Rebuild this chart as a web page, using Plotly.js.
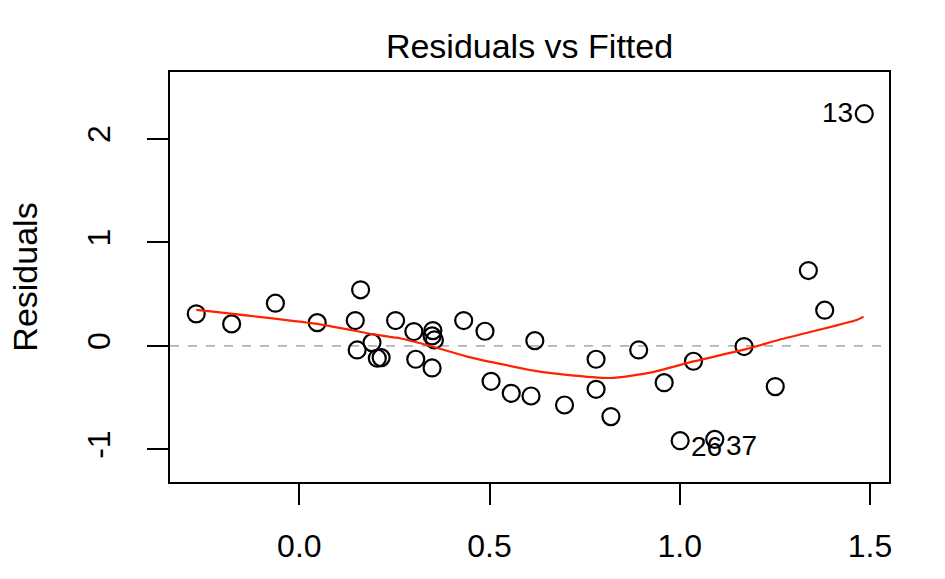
<!DOCTYPE html>
<html>
<head>
<meta charset="utf-8">
<script src="https://cdn.plot.ly/plotly-3.0.1.min.js"></script>
<style>
  html, body { margin: 0; padding: 0; background: #ffffff; }
  #chart { width: 945px; height: 579px; }
</style>
</head>
<body>
<div id="chart"></div>
<script>
// Fitted values and residuals
const fitted = [-0.271, -0.178, -0.063, 0.047, 0.161, 0.147, 0.253, 0.191, 0.152, 0.205, 0.215,
  0.301, 0.306, 0.351, 0.349, 0.355, 0.349, 0.432, 0.488, 0.619, 0.504, 0.557, 0.609, 0.697,
  0.780, 0.780, 0.819, 0.892, 0.959, 1.036, 1.169, 1.251, 1.001, 1.092, 1.338, 1.381, 1.485];
const residuals = [0.310, 0.213, 0.413, 0.225, 0.542, 0.245, 0.245, 0.032, -0.039, -0.119, -0.113,
  0.139, -0.129, 0.148, 0.097, 0.058, -0.213, 0.245, 0.142, 0.051, -0.342, -0.458, -0.484, -0.571,
  -0.129, -0.419, -0.683, -0.039, -0.355, -0.148, -0.006, -0.393, -0.916, -0.903, 0.728, 0.345, 2.244];

// Smoother (lowess) curve
const smoothX = [-0.271, 0.047, 0.204, 0.265, 0.349, 0.441, 0.528, 0.616, 0.703, 0.818, 0.922, 1.036, 1.176, 1.264, 1.465, 1.483];
const smoothY = [0.348, 0.213, 0.106, 0.074, -0.006, -0.103, -0.174, -0.239, -0.280, -0.310, -0.258, -0.150, -0.029, 0.062, 0.250, 0.283];

// Labelled observations
const labelNames = ["13", "26", "37"];
const labelX = [1.485, 1.001, 1.092];
const labelY = [2.244, -0.916, -0.903];
const labelSide = ["left", "right", "right"];

const xTicks = [0.0, 0.5, 1.0, 1.5];
const xTickText = ["0.0", "0.5", "1.0", "1.5"];
const yTicks = [-1, 0, 1, 2];
const yTickText = ["-1", "0", "1", "2"];

const FONT = "Liberation Sans, Arial, Helvetica, sans-serif";
const xRange = [-0.340, 1.550];
const yRange = [-1.315, 2.647];

const traces = [
  {
    x: xRange, y: [0, 0], mode: "lines", type: "scatter",
    line: { color: "#b4b4b4", width: 1.6, dash: "dash" },
    hoverinfo: "skip", showlegend: false
  },
  {
    x: fitted, y: residuals, mode: "markers", type: "scatter",
    marker: { symbol: "circle-open", size: 17, color: "#000000", line: { color: "#000000", width: 2.2 } },
    showlegend: false
  },
  {
    x: smoothX, y: smoothY, mode: "lines", type: "scatter",
    line: { color: "#ff2200", width: 2.2, shape: "spline", smoothing: 0.6 },
    showlegend: false
  }
];

const annotations = labelNames.map((t, i) => ({
  x: labelX[i], y: labelY[i], xref: "x", yref: "y",
  text: t, showarrow: false,
  xanchor: labelSide[i] === "left" ? "right" : "left",
  xshift: labelSide[i] === "left" ? -9 : 9,
  yshift: labelSide[i] === "left" ? 1 : -6,
  font: { family: FONT, size: 28, color: "#000000" }
}));

const layout = {
  width: 945, height: 579,
  paper_bgcolor: "#ffffff", plot_bgcolor: "#ffffff",
  margin: { l: 170, r: 56, t: 72, b: 97 },
  title: {
    text: "Residuals vs Fitted",
    font: { family: FONT, size: 34, color: "#000000" },
    x: 0.5, xref: "paper", xanchor: "center",
    y: 1, yref: "paper", yanchor: "bottom", pad: { b: 14 }
  },
  xaxis: {
    range: xRange, tickvals: xTicks, ticktext: xTickText,
    showgrid: false, zeroline: false,
    showline: true, mirror: true, linecolor: "#000000", linewidth: 2,
    ticks: "outside", ticklen: 21, tickwidth: 2, tickcolor: "#000000",
    tickfont: { family: FONT, size: 32, color: "#000000" },
    ticklabelstandoff: 14
  },
  yaxis: {
    range: yRange, tickvals: yTicks, ticktext: yTickText,
    showgrid: false, zeroline: false,
    showline: true, mirror: true, linecolor: "#000000", linewidth: 2,
    ticks: "outside", ticklen: 21, tickwidth: 2, tickcolor: "#000000",
    tickangle: -90,
    tickfont: { family: FONT, size: 32, color: "#000000" },
    ticklabelstandoff: 24,
    title: { text: "Residuals", font: { family: FONT, size: 34, color: "#000000" }, standoff: 33 }
  },
  annotations: annotations,
  showlegend: false
};

Plotly.newPlot("chart", traces, layout, { displayModeBar: false, staticPlot: true });
</script>
</body>
</html>
